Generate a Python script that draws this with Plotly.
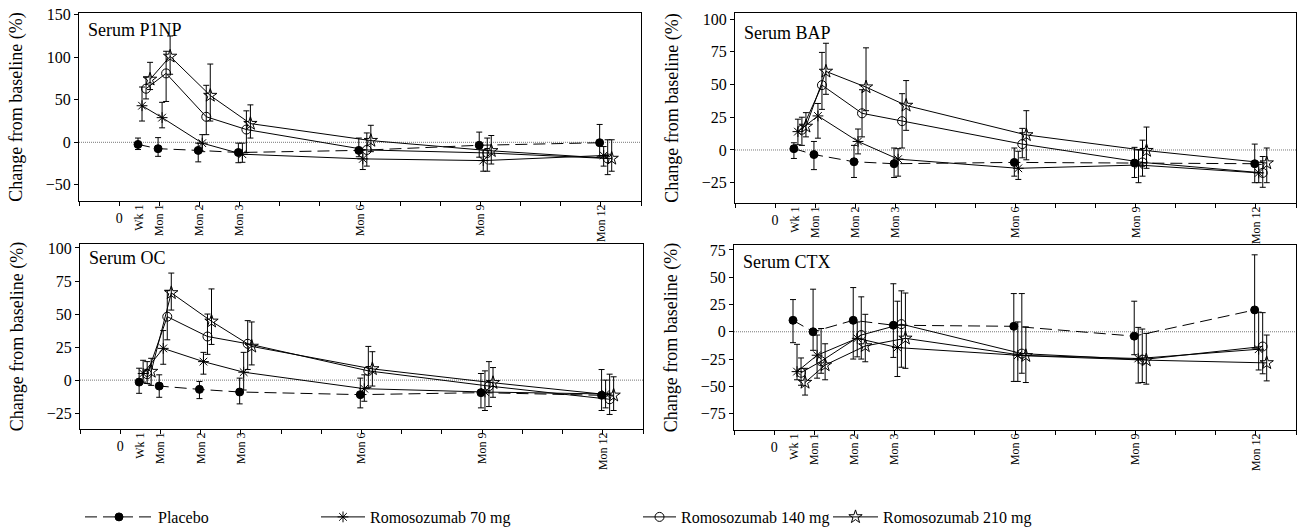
import plotly.graph_objects as go

W, H = 1297, 527

# ---------------- data ----------------
times = [0.5, 1, 2, 3, 6, 9, 12]
time_labels = ["Wk 1", "Mon 1", "Mon 2", "Mon 3", "Mon 6", "Mon 9", "Mon 12"]
groups = ["Placebo", "Romosozumab 70 mg", "Romosozumab 140 mg", "Romosozumab 210 mg"]

# Serum P1NP  (mean, upper bound, lower bound)
p1np_mean_pbo = [-2.5, -7.5, -9.5, -12, -9.5, -3.5, -0.5]
p1np_hi_pbo = [5, 5.5, -1, -1, 5, 12, 21]
p1np_lo_pbo = [-8.5, -16.5, -23, -24, -17, -17.5, -17]
p1np_mean_70 = [43, 29, -1, -14, -19.5, -21.5, -15.5]
p1np_hi_70 = [65, 47, 9, -1, -9, -9, -5]
p1np_lo_70 = [25, 17, -11, -23.5, -32, -34, -28]
p1np_mean_140 = [63, 81, 30, 15, -9, -12.5, -19]
p1np_hi_140 = [77, 107, 67, 37, 11, 5, 3]
p1np_lo_140 = [51, 48, 9, -12, -28, -34, -38]
p1np_mean_210 = [74, 101, 55, 22, 2, -10, -19]
p1np_hi_210 = [94, 125, 92, 44, 20, 8, 3]
p1np_lo_210 = [62, 80, 25, 5, -11, -25.5, -34]

# Serum BAP
bap_mean_pbo = [1, -3.5, -9, -10.5, -9.5, -10, -10.5]
bap_hi_pbo = [5.5, 6.5, 3.5, 1.5, 1.5, 2, 4.5]
bap_lo_pbo = [-6.5, -15, -21, -21, -20, -21, -25]
bap_mean_70 = [14, 26, 6.5, -7, -14, -11.5, -17.5]
bap_hi_70 = [23.5, 35.5, 16, 1, -1, 0, -11]
bap_lo_70 = [4, 9, -3, -20, -22.5, -25, -25]
bap_mean_140 = [15.5, 49.5, 28, 22, 4.5, -9.5, -17.5]
bap_hi_140 = [25, 74.5, 46, 43, 16.5, 7.5, -5]
bap_lo_140 = [3.5, 31, 10, 1.5, -6, -20, -28.5]
bap_mean_210 = [18, 60, 48, 34, 11.5, -0.5, -10]
bap_hi_210 = [28.5, 81.5, 78, 53, 30, 17.5, 1.5]
bap_lo_210 = [10, 42.5, 30, 15, -7.5, -14, -25]

# Serum OC
oc_mean_pbo = [-1.5, -4.5, -7, -9, -11, -9.5, -11.5]
oc_hi_pbo = [9, 4, -1, 1.5, 1.5, 5, 8]
oc_lo_pbo = [-10, -13, -14, -18, -21, -21, -23]
oc_mean_70 = [5, 24, 14, 6, -6.5, -9, -10.5]
oc_hi_70 = [15, 37.5, 21, 21, 4, 7, 0]
oc_lo_70 = [-1.5, 12, 4.5, -7.5, -16, -23, -21]
oc_mean_140 = [4.5, 48, 33, 27.5, 7, -4.5, -14.5]
oc_hi_140 = [14, 68, 50, 45, 25.5, 14, 4.5]
oc_lo_140 = [-2.5, 30.5, 19.5, 8, -5.5, -20, -26]
oc_mean_210 = [6.5, 66, 44.5, 25.5, 8.5, -2, -11.5]
oc_hi_210 = [16.5, 81, 69, 44, 21.5, 9.5, 2.5]
oc_lo_210 = [-4, 53, 27, 11.5, -4.5, -13, -23]

# Serum CTX
ctx_mean_pbo = [10.5, 0, 10.5, 6, 5, -4, 20]
ctx_hi_pbo = [29.5, 39, 40.5, 44, 35, 28, 70.5]
ctx_lo_pbo = [-10, -17, -25, -23.5, -45.5, -21, -15]
ctx_mean_70 = [-36.5, -21.5, -6, -14.5, -21.5, -24.5, -16]
ctx_hi_70 = [-11.5, -3, 9, 28, 9, 4, 18]
ctx_lo_70 = [-44, -42.5, -23, -41, -45.5, -47, -35]
ctx_mean_140 = [-37.5, -27, -3, 7, -20, -25.5, -13.5]
ctx_hi_140 = [-24, 3, 32, 37.5, 35, 2.5, 17.5]
ctx_lo_140 = [-49, -38, -25, -32.5, -38, -46.5, -38.5]
ctx_mean_210 = [-46.5, -30.5, -13, -6, -22, -26, -28.5]
ctx_hi_210 = [-33.5, -11, 16, 35.5, 4.5, -1.5, -3]
ctx_lo_210 = [-58, -44, -27.5, -33.5, -46.5, -48, -45]

panel_titles = ["Serum P1NP", "Serum BAP", "Serum OC", "Serum CTX"]
y_tickvals = [
    [-50, 0, 50, 100, 150],
    [-25, 0, 25, 50, 75, 100],
    [-25, 0, 25, 50, 75, 100],
    [-75, -50, -25, 0, 25, 50, 75],
]
x_tickvals = list(range(-1, 14))
x_ticktext = ["0" if v == 0 else "" for v in x_tickvals]

panel_data = [
    [(p1np_mean_pbo, p1np_hi_pbo, p1np_lo_pbo), (p1np_mean_70, p1np_hi_70, p1np_lo_70),
     (p1np_mean_140, p1np_hi_140, p1np_lo_140), (p1np_mean_210, p1np_hi_210, p1np_lo_210)],
    [(bap_mean_pbo, bap_hi_pbo, bap_lo_pbo), (bap_mean_70, bap_hi_70, bap_lo_70),
     (bap_mean_140, bap_hi_140, bap_lo_140), (bap_mean_210, bap_hi_210, bap_lo_210)],
    [(oc_mean_pbo, oc_hi_pbo, oc_lo_pbo), (oc_mean_70, oc_hi_70, oc_lo_70),
     (oc_mean_140, oc_hi_140, oc_lo_140), (oc_mean_210, oc_hi_210, oc_lo_210)],
    [(ctx_mean_pbo, ctx_hi_pbo, ctx_lo_pbo), (ctx_mean_70, ctx_hi_70, ctx_lo_70),
     (ctx_mean_140, ctx_hi_140, ctx_lo_140), (ctx_mean_210, ctx_hi_210, ctx_lo_210)],
]

# ---------------- layout / style ----------------
FONT = "Liberation Serif"
# pixel boxes (left, right, top, bottom) of each plotting area
boxes = [(79, 641, 13, 201), (735, 1296, 13, 203), (80, 643, 244, 429), (734, 1296, 245, 430)]
y_ranges = [[-69, 152], [-40.5, 104.6], [-37, 103], [-90, 79.5]]
title_offsets = [17, 20, 14, 17]

offsets = [-0.03, 0.07, 0.17, 0.27]
symbols = ["circle", "asterisk-open", "circle-open", "star-open"]
msizes = [8, 9, 9, 10]
dashes = ["12px,6px", "solid", "solid", "solid"]
legend_names = ["legend", "legend2", "legend3", "legend4"]

fig = go.Figure()

for p in range(4):
    xa = "x" if p == 0 else f"x{p+1}"
    ya = "y" if p == 0 else f"y{p+1}"
    for g in range(4):
        mean, hi, lo = panel_data[p][g]
        fig.add_trace(go.Scatter(
            x=[t + offsets[g] for t in times],
            y=mean,
            mode="lines+markers",
            name=groups[g],
            legend=legend_names[g],
            showlegend=(p == 0),
            line=dict(color="black", width=1, dash=dashes[g]),
            marker=dict(symbol=symbols[g], size=msizes[g], color="black",
                        line=dict(color="black", width=1)),
            error_y=dict(type="data", symmetric=False,
                         array=[h - m for h, m in zip(hi, mean)],
                         arrayminus=[m - l for m, l in zip(mean, lo)],
                         color="black", thickness=1, width=3),
            xaxis=xa, yaxis=ya,
        ))
    # empty trace so the overlaid label axis (rotated time labels) is drawn
    fig.add_trace(go.Scatter(x=[], y=[], xaxis=f"x{p+5}", yaxis=ya,
                             showlegend=False, hoverinfo="skip"))

layout = dict(
    width=W, height=H,
    margin=dict(l=0, r=0, t=0, b=0, autoexpand=False),
    paper_bgcolor="white", plot_bgcolor="white",
    font=dict(family=FONT, color="black"),
    shapes=[], annotations=[],
)

for p in range(4):
    L, R, T, B = boxes[p]
    n = "" if p == 0 else str(p + 1)
    xdom = [L / W, R / W]
    ydom = [1 - B / H, 1 - T / H]
    layout[f"xaxis{n}"] = dict(
        domain=xdom, range=[-1, 13], anchor=f"y{n}",
        tickmode="array", tickvals=x_tickvals, ticktext=x_ticktext, tickangle=0,
        ticks="outside", ticklen=4, tickcolor="black",
        showline=True, linecolor="black", linewidth=1, mirror=True,
        showgrid=False, zeroline=False,
        tickfont=dict(size=14, family=FONT, color="black"),
    )
    layout[f"xaxis{p+5}"] = dict(
        overlaying=f"x{n}", anchor=f"y{n}", side="bottom", range=[-1, 13],
        tickmode="array", tickvals=times, ticktext=time_labels, tickangle=-90,
        ticks="", showline=False, showgrid=False, zeroline=False,
        tickfont=dict(size=12, family=FONT, color="black"),
    )
    layout[f"yaxis{n}"] = dict(
        domain=ydom, range=y_ranges[p], anchor=f"x{n}",
        tickmode="array", tickvals=y_tickvals[p],
        ticks="outside", ticklen=4, tickcolor="black",
        showline=True, linecolor="black", linewidth=1, mirror=True,
        showgrid=False, zeroline=False,
        tickfont=dict(size=16, family=FONT, color="black"),
        title=dict(text="Change from baseline (%)",
                   font=dict(size=18, family=FONT, color="black"), standoff=18),
    )
    layout["shapes"].append(dict(
        type="line", xref=f"x{n} domain", yref=f"y{n}", x0=0, x1=1, y0=0, y1=0,
        line=dict(color="#777777", width=1, dash="1px,1px"), layer="below",
    ))
    layout["annotations"].append(dict(
        text=panel_titles[p], xref=f"x{n} domain", yref=f"y{n} domain",
        x=7 / (R - L), y=1 - title_offsets[p] / (B - T),
        xanchor="left", yanchor="middle", showarrow=False,
        font=dict(size=18, family=FONT, color="black"),
    ))

# four separate legends along the bottom
leg_x = [80, 316, 638, 828]
leg_w = [68, 44, 33, 45]
for i, ln in enumerate(legend_names):
    layout[ln] = dict(
        x=leg_x[i] / W, y=1 - 517 / H, xanchor="left", yanchor="middle",
        orientation="h", itemwidth=max(30, leg_w[i]), bgcolor="rgba(0,0,0,0)",
        borderwidth=0, font=dict(size=16, family=FONT, color="black"),
    )

fig.update_layout(**layout)
fig.write_html("out.html")
